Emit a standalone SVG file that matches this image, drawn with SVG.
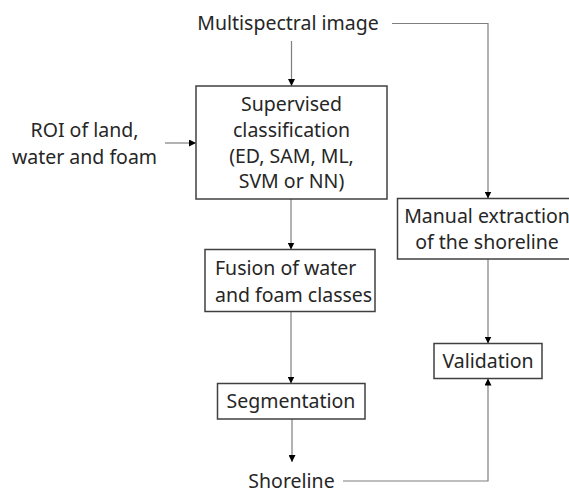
<svg xmlns="http://www.w3.org/2000/svg" width="569" height="492" viewBox="0 0 569 492">
<defs>
<style>
text{font-family:"Noto Sans","Open Sans","DejaVu Sans",sans-serif;font-size:19.5px;fill:#262626}
.box{fill:#fff;stroke:#404040;stroke-width:1.5}
.c{text-anchor:middle}
.conn{fill:none;stroke:#7f7f7f;stroke-width:1.2}
</style>
<marker id="ah" viewBox="0 0 10 10" refX="10" refY="5" markerWidth="7" markerHeight="7" markerUnits="userSpaceOnUse" orient="auto">
<path d="M0,0 L10,5 L0,10 z" fill="#000"/>
</marker>
</defs>
<rect width="569" height="492" fill="#fff"/>
<g id="connectors">
<path class="conn" d="M291.5,41 V86" marker-end="url(#ah)"/>
<path class="conn" d="M165,143 H196" marker-end="url(#ah)"/>
<path class="conn" d="M392,23.5 H488 V198.5" marker-end="url(#ah)"/>
<path class="conn" d="M291,199 V249.5" marker-end="url(#ah)"/>
<path class="conn" d="M291,311.5 V383.5" marker-end="url(#ah)"/>
<path class="conn" d="M292,419 V462" marker-end="url(#ah)"/>
<path class="conn" d="M488,259 V343.5" marker-end="url(#ah)"/>
<path class="conn" d="M343,481 H488 V378.5" marker-end="url(#ah)"/>
</g>
<g id="multispectral"><text class="c" x="288" y="30">Multispectral image</text></g>
<g id="roi"><text class="c" x="84.5" y="137">ROI of land,</text><text class="c" x="84.5" y="163.5">water and foam</text></g>
<g id="supervised">
<rect class="box" x="196" y="86" width="191" height="113"/>
<text class="c" x="291.5" y="111">Supervised</text>
<text class="c" x="291.5" y="136.5">classification</text>
<text class="c" x="291.5" y="162.5">(ED, SAM, ML,</text>
<text class="c" x="291.5" y="188">SVM or NN)</text>
</g>
<g id="fusion">
<rect class="box" x="205" y="249.5" width="170" height="62"/>
<text x="215" y="275">Fusion of water</text>
<text x="215" y="301.5">and foam classes</text>
</g>
<g id="segmentation">
<rect class="box" x="217.5" y="383.5" width="147.5" height="35.5"/>
<text class="c" x="291" y="408">Segmentation</text>
</g>
<g id="shoreline"><text class="c" x="291.5" y="488">Shoreline</text></g>
<g id="manual">
<rect class="box" x="397.5" y="198.5" width="182" height="60.5"/>
<text class="c" x="487" y="223">Manual extraction</text>
<text class="c" x="487" y="248.5">of the shoreline</text>
</g>
<g id="validation">
<rect class="box" x="434" y="343.5" width="108" height="35"/>
<text class="c" x="488" y="367.5">Validation</text>
</g>
</svg>
